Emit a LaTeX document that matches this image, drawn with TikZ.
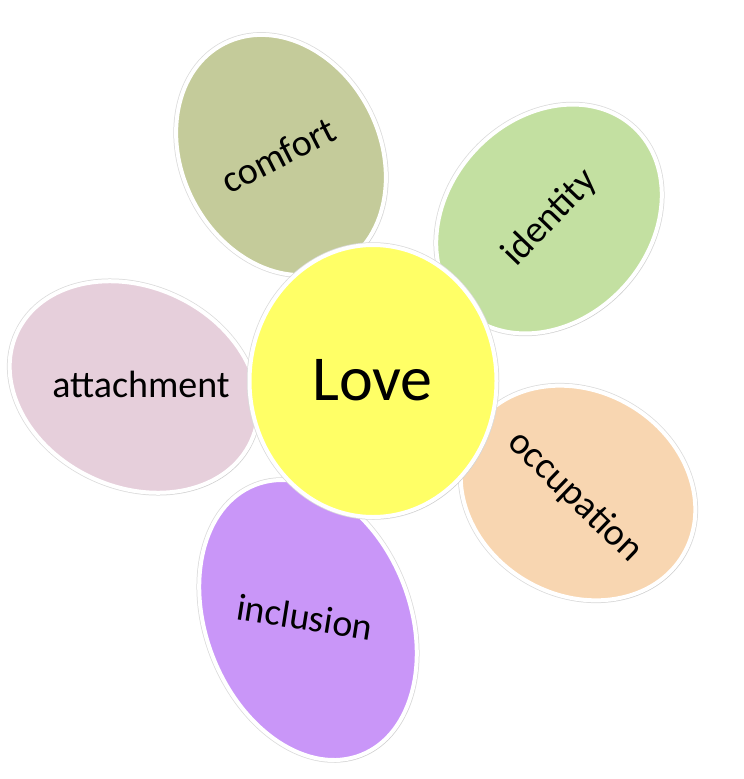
\documentclass[tikz,border=0pt]{standalone}
\usepackage{fontspec}
\setmainfont{Carlito}
\usetikzlibrary{shapes.geometric,shadows}
\definecolor{cComfort}{HTML}{C4CB9A}
\definecolor{cIdentity}{HTML}{C3E0A1}
\definecolor{cOccup}{HTML}{F8D6B1}
\definecolor{cIncl}{HTML}{C996F8}
\definecolor{cAttach}{HTML}{E6CFDB}
\definecolor{cLove}{HTML}{FFFF66}
\tikzset{
  petal/.style={ellipse, inner sep=0pt, line width=4pt, draw=white,
    preaction={draw=black!14, line width=5.5pt},
    drop shadow={opacity=0.16, shadow xshift=1.5pt, shadow yshift=-2pt}},
  ptext/.style={font=\fontsize{38}{42}\selectfont, inner sep=0pt}
}
\begin{document}
\begin{tikzpicture}[x=1pt,y=-1pt]
\useasboundingbox (0,0) rectangle (744,779);
\fill[white] (0,0) rectangle (744,779);
\node[petal, fill=cComfort, minimum width=198pt, minimum height=250pt, rotate=27] (comfortE) at (281,155) {};
\node[petal, fill=cIdentity, minimum width=250pt, minimum height=202pt, rotate=47] (identityE) at (549,219) {};
\node[petal, fill=cOccup, minimum width=244pt, minimum height=204pt, rotate=-30] (occupE) at (578,493) {};
\node[petal, fill=cIncl, minimum width=204pt, minimum height=290pt, rotate=21.5] (inclE) at (308,620) {};
\node[petal, fill=cAttach, minimum width=258pt, minimum height=200pt, rotate=-25] (attachE) at (134,387) {};
\node[petal, fill=cLove, minimum width=247pt, minimum height=272pt] (loveE) at (373,381) {};
\node[ptext, rotate=27] (comfort) at (278,155) {comfort};
\node[ptext, rotate=46] (identity) at (550,218) {identity};
\node[ptext, rotate=-44] (occupation) at (575,497) {occupation};
\node[ptext, rotate=-9] (inclusion) at (305,617) {inclusion};
\node[ptext, anchor=base] (attachment) at (141,397) {attachment};
\node[font=\fontsize{64}{70}\selectfont, inner sep=0pt, anchor=base] (love) at (372.5,400) {Love};
\end{tikzpicture}
\end{document}
